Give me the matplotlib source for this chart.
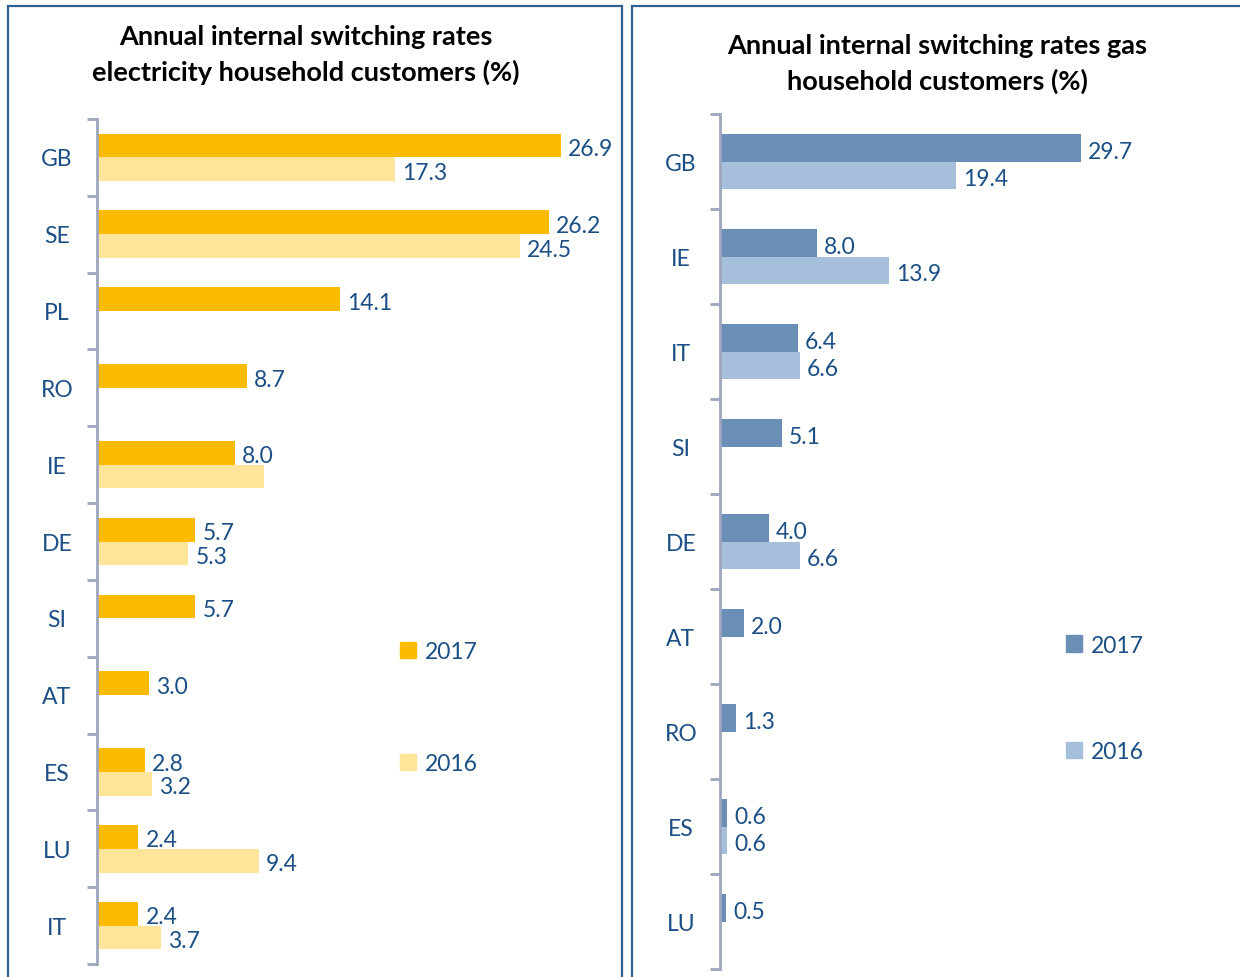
import numpy as np
import matplotlib
matplotlib.use('Agg')
import matplotlib.pyplot as plt
from matplotlib.patches import Rectangle, Patch

plt.rcParams['font.family'] = ['Lato', 'DejaVu Sans']

# electricity
elec_countries = ['GB', 'SE', 'PL', 'RO', 'IE', 'DE', 'SI', 'AT', 'ES', 'LU', 'IT']
elec_2017 = [26.9, 26.2, 14.1, 8.7, 8.0, 5.7, 5.7, 3.0, 2.8, 2.4, 2.4]
elec_2016 = [17.3, 24.5, np.nan, np.nan, 9.7, 5.3, np.nan, np.nan, 3.2, 9.4, 3.7]
elec_2016_labelled = [True, True, False, False, False, True, False, False, True, True, True]

# gas
gas_countries = ['GB', 'IE', 'IT', 'SI', 'DE', 'AT', 'RO', 'ES', 'LU']
gas_2017 = [29.7, 8.0, 6.4, 5.1, 4.0, 2.0, 1.3, 0.6, 0.5]
gas_2016 = [19.4, 13.9, 6.6, np.nan, 6.6, np.nan, np.nan, 0.6, np.nan]
gas_2016_labelled = [True, True, True, False, True, False, False, True, False]

TXT = '#1B4F85'
SPINE = '#9EA6BE'
W, H = 1240, 978

fig = plt.figure(figsize=(12.4, 9.78), dpi=100)

# panel frames
for x0, x1 in [(8, 622), (632, 1245)]:
    fig.patches.append(Rectangle((x0 / W, -0.05), (x1 - x0) / W, 1.05 - 7 / H,
                                 transform=fig.transFigure, fill=False,
                                 edgecolor='#2E5F8E', linewidth=1.6))


def panel(rect, countries, v17, v16, lab16, c17, c16, bar_h, xmax, label_x, dy):
    ax = fig.add_axes(rect)
    n = len(countries)
    y = np.arange(n)
    ax.barh(y - bar_h / 2, v17, height=bar_h, color=c17, label='2017')
    ax.barh(y + bar_h / 2, v16, height=bar_h, color=c16, label='2016')
    for i in range(n):
        ax.text(v17[i] + xmax * 0.014, y[i] - bar_h / 2 + dy, f'{v17[i]:.1f}',
                va='center', ha='left', fontsize=16.5, color=TXT)
        if lab16[i]:
            ax.text(v16[i] + xmax * 0.014, y[i] + bar_h / 2 + dy, f'{v16[i]:.1f}',
                    va='center', ha='left', fontsize=16.5, color=TXT)
    ax.set_ylim(n - 0.5, -0.5)
    ax.set_xlim(0, xmax)
    ax.set_yticks(y)
    ax.set_yticklabels([])
    ax.tick_params(axis='y', which='major', length=0)
    ax.set_yticks(np.arange(n + 1) - 0.5, minor=True)
    ax.tick_params(axis='y', which='minor', length=7, width=2, color=SPINE, direction='out')
    for i, c in enumerate(countries):
        ax.text(label_x, y[i] + 0.02, c, transform=ax.get_yaxis_transform(),
                ha='center', va='center', fontsize=16.5, color=TXT)
    ax.set_xticks([])
    for s in ['top', 'right', 'bottom']:
        ax.spines[s].set_visible(False)
    ax.spines['left'].set_color(SPINE)
    ax.spines['left'].set_linewidth(2)
    ax.set_facecolor('none')
    return ax


# left: axis x=97, 17.25 px per unit
ax1 = panel([97 / W, 13 / H, 503 / W, 845 / H], elec_countries, elec_2017, elec_2016,
            elec_2016_labelled, '#FABB00', '#FFE49A', 0.31, 503 / 17.25, -40 / 503, 0.04)
# right: axis x=720, 12.15 px per unit
ax2 = panel([720 / W, 8 / H, 500 / W, 855 / H], gas_countries, gas_2017, gas_2016,
            gas_2016_labelled, '#6A8EB6', '#A6BFDA', 0.285, 500 / 12.15, -39 / 500, 0.035)

title_kw = dict(ha='center', va='center', fontsize=19.5, fontweight='bold', color='black')
fig.text(306 / W, 1 - 37 / H, 'Annual internal switching rates', **title_kw)
fig.text(306 / W, 1 - 72 / H, 'electricity household customers (%)', **title_kw)
fig.text(937 / W, 1 - 46 / H, 'Annual internal switching rates gas', **title_kw)
fig.text(937 / W, 1 - 81 / H, 'household customers (%)', **title_kw)

for ax, (c17, c16), x, yc, sp in [(ax1, ('#FABB00', '#FFE49A'), 400, 708.5, 4.0),
                                  (ax2, ('#6A8EB6', '#A6BFDA'), 1066, 699.5, 3.75)]:
    handles = [Patch(color=c17, label='2017'), Patch(color=c16, label='2016')]
    fig.legend(handles=handles, loc='center left', bbox_to_anchor=(x / W, 1 - yc / H),
               frameon=False, fontsize=16.5, labelcolor=TXT, handlelength=0.7,
               handleheight=0.7, handletextpad=0.4, labelspacing=sp,
               borderpad=0, borderaxespad=0)

fig.savefig('out.png', dpi=100)
